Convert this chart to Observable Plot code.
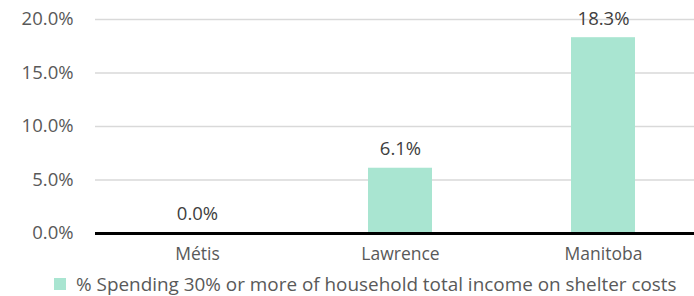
<!DOCTYPE html>
<html><head><meta charset="utf-8">
<script src="https://cdn.jsdelivr.net/npm/d3@7"></script>
<script src="https://cdn.jsdelivr.net/npm/@observablehq/plot@0.6"></script>
<style>
body{margin:0;background:#fff;font-family:"Open Sans",sans-serif;}
#chart svg{display:block;}
#legend{position:absolute;left:54px;top:272px;display:flex;align-items:center;height:24px;font-size:18.9px;color:#595959;white-space:nowrap;}
#legend span.sw{display:inline-block;width:12px;height:12px;background:#a9e5d1;margin-right:10px;}
</style></head>
<body>
<div id="chart"></div>
<div id="legend"><span class="sw"></span><span id="lt"></span></div>
<script>
const categories = ["Métis", "Lawrence", "Manitoba"];
const values = [0.0, 6.1, 18.3];
const yTicks = [0, 5, 10, 15, 20];
const seriesName = "% Spending 30% or more of household total income on shelter costs";

document.getElementById("lt").textContent = seriesName;
const data = categories.map((c, i) => ({cat: c, v: values[i]}));
const chart = Plot.plot({
  width: 694, height: 270,
  marginTop: 19, marginBottom: 37, marginLeft: 95, marginRight: 0,
  style: {fontFamily: "'Open Sans', sans-serif", fontSize: "18px", color: "#595959", background: "#fff"},
  x: {domain: categories, range: [95, 704], paddingInner: 0.685, paddingOuter: 0.3425, align: 0.5, label: null},
  y: {domain: [0, 20], ticks: yTicks, label: null},
  marks: [
    Plot.ruleY(yTicks.filter(d => d > 0), {stroke: "#d9d9d9", strokeWidth: 1.3}),
    Plot.axisY({ticks: yTicks, tickSize: 0, tickPadding: 22, tickFormat: d => d.toFixed(1) + "%", fontSize: 18.5, fill: "#595959"}),
    Plot.barY(data, {x: "cat", y: "v", fill: "#a9e5d1"}),
    Plot.text(data, {x: "cat", y: "v", text: d => d.v.toFixed(1) + "%", dy: -19, fontSize: 18.5, fill: "#404040"}),
    Plot.ruleY([0], {stroke: "#000", strokeWidth: 3}),
    Plot.axisX({tickSize: 0, tickPadding: 14, fontSize: 17.5, fill: "#595959"})
  ]
});
document.getElementById("chart").appendChild(chart);
</script>
</body></html>
